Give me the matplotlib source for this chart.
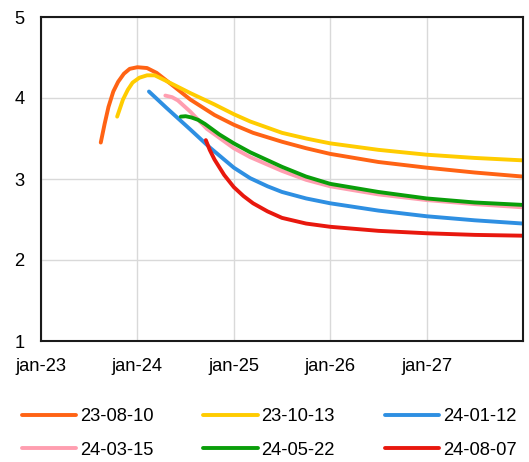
import matplotlib.pyplot as plt

plt.rcParams['font.family'] = ['Liberation Sans', 'DejaVu Sans']

# time in decimal years, values in percent
t_230810 = [2023.62, 2023.66, 2023.70, 2023.75, 2023.80, 2023.86, 2023.92, 2024.0, 2024.1,
            2024.2, 2024.35, 2024.55, 2024.8, 2025.0, 2025.2, 2025.5, 2025.75, 2026.0,
            2026.5, 2027.0, 2027.5, 2028.0]
v_230810 = [3.45, 3.68, 3.89, 4.08, 4.20, 4.30, 4.36, 4.38, 4.37,
            4.31, 4.17, 3.98, 3.79, 3.67, 3.57, 3.46, 3.38, 3.31,
            3.21, 3.14, 3.08, 3.03]

t_231013 = [2023.79, 2023.85, 2023.90, 2023.95, 2024.02, 2024.1, 2024.18, 2024.3, 2024.55,
            2024.8, 2025.0, 2025.17, 2025.5, 2025.75, 2026.0, 2026.5, 2027.0, 2027.5, 2028.0]
v_231013 = [3.77, 3.98, 4.10, 4.19, 4.25, 4.28, 4.28, 4.21, 4.06,
            3.92, 3.80, 3.71, 3.57, 3.50, 3.44, 3.36, 3.30, 3.26, 3.23]

t_240112 = [2024.12, 2024.3, 2024.55, 2024.75, 2024.9, 2025.0, 2025.17, 2025.35, 2025.5,
            2025.75, 2026.0, 2026.5, 2027.0, 2027.5, 2028.0]
v_240112 = [4.08, 3.88, 3.61, 3.39, 3.24, 3.14, 3.01, 2.91, 2.84,
            2.76, 2.70, 2.61, 2.54, 2.49, 2.45]

t_240315 = [2024.29, 2024.36, 2024.42, 2024.55, 2024.72, 2025.0, 2025.17, 2025.5, 2025.75,
            2026.0, 2026.5, 2027.0, 2027.5, 2028.0]
v_240315 = [4.03, 4.01, 3.97, 3.83, 3.62, 3.38, 3.27, 3.10, 2.99,
            2.91, 2.81, 2.74, 2.69, 2.65]

t_240522 = [2024.45, 2024.5, 2024.56, 2024.63, 2024.7, 2024.85, 2025.0, 2025.17, 2025.5,
            2025.75, 2026.0, 2026.5, 2027.0, 2027.5, 2028.0]
v_240522 = [3.77, 3.775, 3.76, 3.73, 3.68, 3.55, 3.44, 3.33, 3.15,
            3.03, 2.94, 2.84, 2.76, 2.71, 2.68]

t_240807 = [2024.71, 2024.75, 2024.8, 2024.9, 2025.0, 2025.1, 2025.2, 2025.35, 2025.5,
            2025.75, 2026.0, 2026.5, 2027.0, 2027.5, 2028.0]
v_240807 = [3.48, 3.36, 3.24, 3.05, 2.90, 2.79, 2.70, 2.60, 2.52,
            2.45, 2.41, 2.36, 2.33, 2.31, 2.30]

labels = ['23-08-10', '23-10-13', '24-01-12', '24-03-15', '24-05-22', '24-08-07']
colors = ['#FF6314', '#FFCC00', '#2E8FE2', '#FF9EB0', '#0A9E0A', '#E8180E']
series = [(t_230810, v_230810), (t_231013, v_231013), (t_240112, v_240112),
          (t_240315, v_240315), (t_240522, v_240522), (t_240807, v_240807)]

xticks = [2023, 2024, 2025, 2026, 2027]
xtick_labels = ['jan-23', 'jan-24', 'jan-25', 'jan-26', 'jan-27']

fig = plt.figure(figsize=(5.29, 4.62), dpi=100)
ax = fig.add_axes([41/529, 1 - 341/462, (523 - 41)/529, (341 - 17)/462])

handles = []
for (t, v), lab, col in zip(series, labels, colors):
    h, = ax.plot(t, v, color=col, lw=2.8, label=lab, solid_capstyle='round')
    handles.append(h)

ax.set_xlim(2023, 2028)
ax.set_ylim(1, 5)
ax.set_xticks(xticks)
ax.set_xticklabels(xtick_labels)
ax.set_yticks([1, 2, 3, 4, 5])
ax.grid(True, color='#d9d9d9', lw=1)
ax.set_axisbelow(True)
ax.tick_params(length=0, labelsize=13.2, colors='black')
ax.tick_params(axis='y', pad=12)
ax.tick_params(axis='x', pad=12)
for s in ax.spines.values():
    s.set_color('#1a1a1a')
    s.set_linewidth(1.5)

# excel fills the legend row by row
order = [0, 3, 1, 4, 2, 5]
fig.legend([handles[i] for i in order], [labels[i] for i in order],
           ncol=3, loc='center', bbox_to_anchor=(0.509, 0.062),
           frameon=False, fontsize=13.2, handlelength=2.95, handletextpad=0.22,
           columnspacing=2.73, labelspacing=0.9)

fig.savefig('out.png', dpi=100)
